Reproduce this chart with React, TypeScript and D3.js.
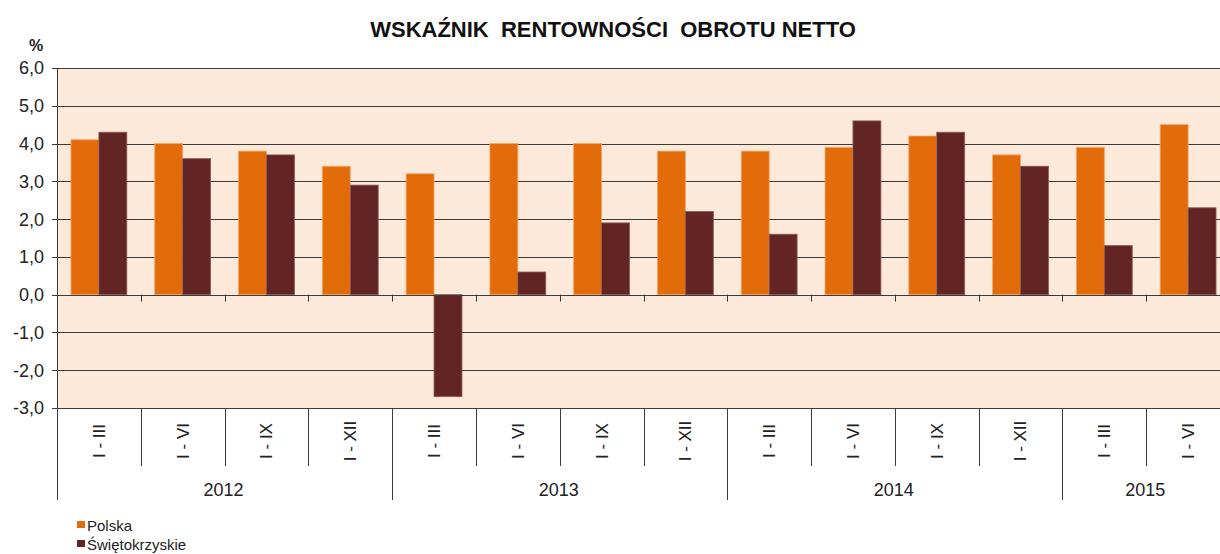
import * as d3 from 'd3';

const periods = ['I - III', 'I - VI', 'I - IX', 'I - XII', 'I - III', 'I - VI', 'I - IX', 'I - XII', 'I - III', 'I - VI', 'I - IX', 'I - XII', 'I - III', 'I - VI'];
const years = ['2012', '2013', '2014', '2015'];
const yearSpans = [4, 4, 4, 2];
const polska = [4.1, 4.0, 3.8, 3.4, 3.2, 4.0, 4.0, 3.8, 3.8, 3.9, 4.2, 3.7, 3.9, 4.5];
const swietokrzyskie = [4.3, 3.6, 3.7, 2.9, -2.7, 0.6, 1.9, 2.2, 1.6, 4.6, 4.3, 3.4, 1.3, 2.3];
const yTicks = [6, 5, 4, 3, 2, 1, 0, -1, -2, -3];
const seriesNames = ['Polska', 'Świętokrzyskie'];
const colors = ['#E36C0A', '#632523'];

const W = 1220;
const H = 554;
const left = 57;
const right = 1230;
const top = 68;
const bottom = 408;
const font = '"Liberation Sans", Arial, sans-serif';

export default function App() {
  const keys = periods.map((_, i) => String(i));
  const x = d3.scaleBand().domain(keys).range([left, right]).paddingInner(0).paddingOuter(0);
  // two bars fill 2/3 of each category
  const x1 = d3.scaleBand().domain(['0', '1']).range([0, x.bandwidth()]).paddingInner(0).paddingOuter(0.5);
  const y = d3.scaleLinear().domain([-3, 6]).range([bottom, top]);
  const series = [polska, swietokrzyskie];

  // year group boundaries
  let acc = 0;
  const groups = years.map((yr, i) => {
    const start = acc;
    acc += yearSpans[i];
    return { yr, start, end: acc };
  });
  const catEdge = (i: number) => (i < periods.length ? (x(String(i)) as number) : (x(String(i - 1)) as number) + x.bandwidth());

  return (
    <svg width={W} height={H} style={{ position: 'absolute', left: 0, top: 0, background: '#fff' }} fontFamily={font}>
      <rect x={left} y={top} width={right - left} height={bottom - top} fill="#FDE9D9" />
      {yTicks.map(t => (
        <line key={t} x1={left - 5} x2={right} y1={Math.round(y(t)) + 0.5} y2={Math.round(y(t)) + 0.5} stroke="#3a3a3a" strokeWidth={1} />
      ))}
      {yTicks.map(t => (
        <text key={'l' + t} x={44} y={y(t)} dy="0.36em" textAnchor="end" fontSize={18} fill="#222">
          {d3.format('.1f')(t).replace('.', ',').replace('−', '-')}
        </text>
      ))}
      <text x={36} y={51} textAnchor="middle" fontSize={16} fontWeight="bold" fill="#222">%</text>

      {series.map((vals, s) => vals.map((v, i) => {
        const bx = (x(String(i)) as number) + (x1(String(s)) as number);
        const y0 = y(0);
        const yv = y(v);
        return (
          <rect key={s + '-' + i} x={bx} y={Math.min(y0, yv)} width={x1.bandwidth()} height={Math.abs(yv - y0)}
            fill={colors[s]} stroke={s === 0 ? '#F2A66A' : '#8a5a58'} strokeWidth={0.8} />
        );
      }))}

      {/* ticks on the zero line */}
      {keys.map((k, i) => (
        <line key={'zt' + i} x1={Math.round(x(k) as number) + 0.5} x2={Math.round(x(k) as number) + 0.5} y1={y(0)} y2={y(0) + 7} stroke="#3a3a3a" />
      ))}
      <line x1={left} x2={right} y1={Math.round(y(0)) + 0.5} y2={Math.round(y(0)) + 0.5} stroke="#3a3a3a" />
      <line x1={left + 0.5} x2={left + 0.5} y1={top} y2={500} stroke="#3a3a3a" />

      {/* category separators */}
      {keys.map((k, i) => {
        if (i === 0) return null;
        const isYear = groups.some(g => g.start === i);
        const xx = Math.round(x(k) as number) + 0.5;
        return <line key={'sep' + i} x1={xx} x2={xx} y1={bottom} y2={isYear ? 500 : 466} stroke="#3a3a3a" />;
      })}
      {periods.map((p, i) => {
        const cx = (x(String(i)) as number) + x.bandwidth() / 2;
        return (
          <text key={'p' + i} transform={`translate(${cx},441) rotate(-90)`} textAnchor="middle" dy="0.35em" fontSize={17} fill="#222">
            {p}
          </text>
        );
      })}
      {groups.map(g => (
        <text key={g.yr} x={(catEdge(g.start) + catEdge(g.end)) / 2 - 1} y={496} textAnchor="middle" fontSize={18} fill="#222">{g.yr}</text>
      ))}

      <text x={613} y={37} textAnchor="middle" fontSize={22} fontWeight="bold" fill="#111" style={{ whiteSpace: 'pre' }}>
        {'WSKAŹNIK  RENTOWNOŚCI  OBROTU NETTO'}
      </text>

      {seriesNames.map((n, i) => (
        <g key={n} transform={`translate(77,${521 + i * 19})`}>
          <rect x={0} y={0} width={8} height={7} fill={colors[i]} />
          <text x={10} y={10} fontSize={15} fill="#222">{n}</text>
        </g>
      ))}
    </svg>
  );
}
